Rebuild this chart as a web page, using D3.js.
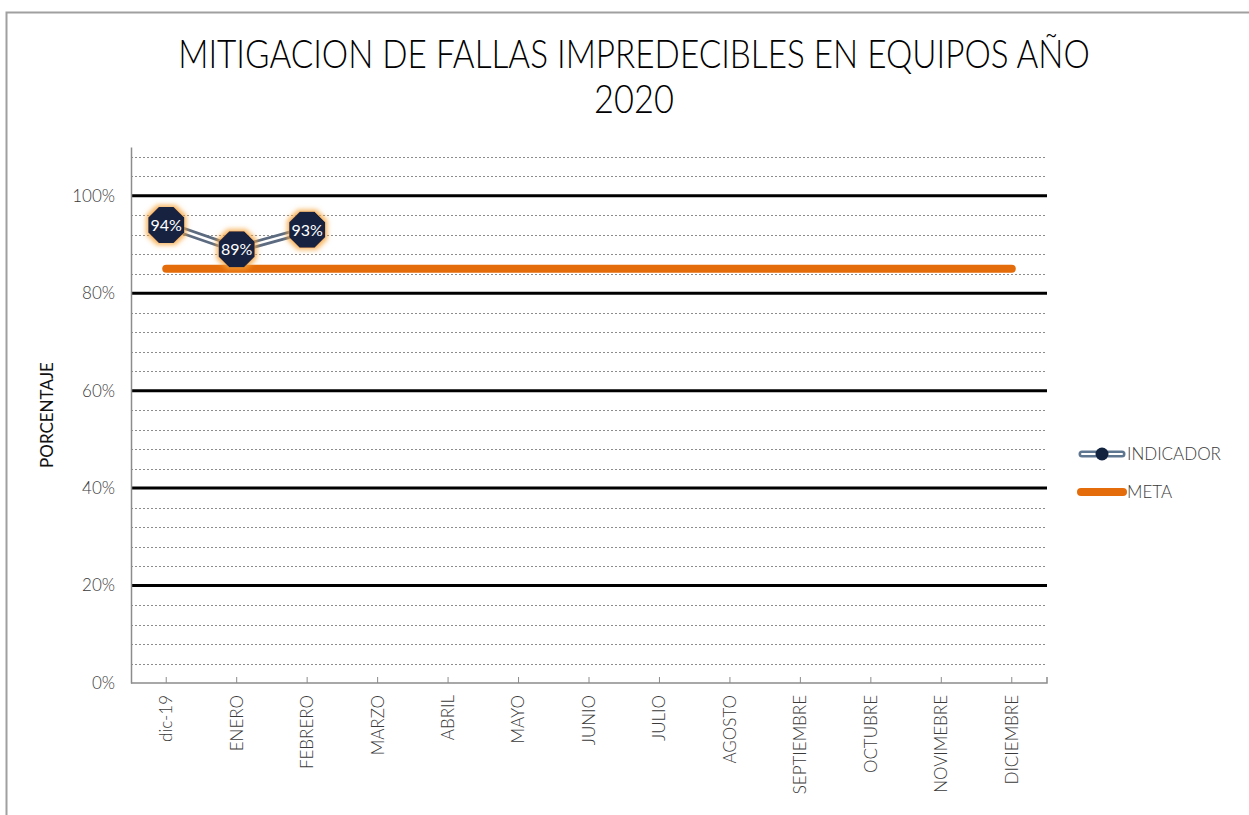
<!DOCTYPE html>
<html>
<head>
<meta charset="utf-8">
<script src="https://cdn.jsdelivr.net/npm/d3@7"></script>
<style>
  html, body { margin: 0; padding: 0; background: #fff; }
  svg { display: block; font-family: "Lato", "Noto Sans", sans-serif; }
</style>
</head>
<body>
<svg id="chart" width="1249" height="815"></svg>
<script>
// Chart data
const categories = ["dic-19", "ENERO", "FEBRERO", "MARZO", "ABRIL", "MAYO", "JUNIO",
  "JULIO", "AGOSTO", "SEPTIEMBRE", "OCTUBRE", "NOVIMEBRE", "DICIEMBRE"];
const indicador = [0.94, 0.89, 0.93];           // measured values (first three months)
const meta = categories.map(() => 0.85);          // target for every month
const yTicks = [0, 0.2, 0.4, 0.6, 0.8, 1.0];
const titleLines = ["MITIGACION DE FALLAS IMPREDECIBLES EN EQUIPOS AÑO", "2020"];
const legendNames = ["INDICADOR", "META"];

const svg = d3.select("#chart");
const margin = { left: 131, right: 1047, top: 147, bottom: 683 };

const x = d3.scaleBand().domain(categories).range([margin.left, margin.right]);
const cx = d => x(d) + x.bandwidth() / 2;
const y = d3.scaleLinear().domain([0, 1.1]).range([margin.bottom, margin.top]);

// Outer frame (top and left edges)
svg.append("path")
  .attr("d", "M6.5,815 V12.5 H1249")
  .attr("fill", "none").attr("stroke", "#a0a0a0").attr("stroke-width", 2);

// Title: a narrow face, squeezed horizontally to a fixed width
const titleG = svg.append("g");
titleG.selectAll("text").data(titleLines).join("text")
  .attr("text-anchor", "middle")
  .attr("font-size", 40).attr("font-weight", 300).attr("fill", "#000")
  .text(d => d)
  .each(function(d, i) {
    const w = this.getComputedTextLength();
    const sx = i === 0 ? 912 / w : 0.86;
    d3.select(this).attr("transform", `translate(634,${68 + i * 45}) scale(${sx},1)`);
  });

// Minor dotted gridlines every 4%
const minor = d3.range(1, 28).map(k => k * 0.04).filter((v, k) => (k + 1) % 5 !== 0);
svg.append("g").selectAll("line").data(minor).join("line")
  .attr("x1", margin.left).attr("x2", margin.right)
  .attr("y1", d => Math.round(y(d)) + 0.5).attr("y2", d => Math.round(y(d)) + 0.5)
  .attr("stroke", "#8c8c8c").attr("stroke-width", 1).attr("stroke-dasharray", "2,2");

// Major gridlines every 20%
svg.append("g").selectAll("line").data(yTicks.filter(v => v > 0)).join("line")
  .attr("x1", margin.left).attr("x2", margin.right)
  .attr("y1", d => y(d)).attr("y2", d => y(d))
  .attr("stroke", "#000").attr("stroke-width", 3);

// Y axis
const yAxis = svg.append("g")
  .attr("transform", `translate(${margin.left},0)`)
  .call(d3.axisLeft(y).tickValues(yTicks).tickFormat(d3.format(".0%")).tickSize(0).tickPadding(16));
yAxis.select(".domain").attr("stroke", "#8c8c8c").attr("stroke-width", 1.5);
yAxis.selectAll("text").attr("font-size", 17).attr("font-weight", 300).attr("fill", "#3a3a3a")
  .attr("font-family", "Lato, sans-serif");

// X axis
const xAxis = svg.append("g")
  .attr("transform", `translate(0,${margin.bottom})`)
  .call(d3.axisBottom(x).tickSizeInner(6).tickSizeOuter(6).tickPadding(12));
xAxis.select(".domain").attr("stroke", "#8c8c8c").attr("stroke-width", 1.5)
  .attr("d", `M${margin.left},0H${margin.right}V-6`);
xAxis.selectAll(".tick line").attr("stroke", "#8c8c8c").attr("y2", -6);
xAxis.selectAll("text")
  .attr("font-size", 17).attr("font-weight", 300).attr("fill", "#3a3a3a")
  .attr("font-family", "Lato, sans-serif")
  .attr("text-anchor", "end")
  .attr("dy", "0.35em")
  .attr("transform", "translate(0,12) rotate(-90)")
  .attr("x", 0).attr("y", 0);

// Y axis title
svg.append("text")
  .attr("transform", "translate(53,415) rotate(-90)")
  .attr("text-anchor", "middle")
  .attr("font-size", 17).attr("font-weight", 400).attr("fill", "#111")
  .text("PORCENTAJE");

// Target line
const line = d3.line().x((d, i) => cx(categories[i])).y(d => y(d));
svg.append("path").datum(meta)
  .attr("d", line)
  .attr("fill", "none").attr("stroke", "#e46c0a").attr("stroke-width", 8)
  .attr("stroke-linecap", "round");

// Indicator line: compound (double) stroke
const ind = svg.append("g");
ind.append("path").datum(indicador).attr("d", line)
  .attr("fill", "none").attr("stroke", "#5c6b80").attr("stroke-width", 8);
ind.append("path").datum(indicador).attr("d", line)
  .attr("fill", "none").attr("stroke", "#fff").attr("stroke-width", 2.5);

// Glow filter for markers
const defs = svg.append("defs");
const glow = defs.append("filter").attr("id", "glow").attr("x", "-50%").attr("y", "-50%").attr("width", "200%").attr("height", "200%");
glow.append("feMorphology").attr("in", "SourceAlpha").attr("operator", "dilate").attr("radius", 2).attr("result", "d");
glow.append("feGaussianBlur").attr("in", "d").attr("stdDeviation", 2.5).attr("result", "b");
glow.append("feFlood").attr("flood-color", "#f5a43c").attr("flood-opacity", 0.85);
glow.append("feComposite").attr("in2", "b").attr("operator", "in").attr("result", "g");
const merge = glow.append("feMerge");
merge.append("feMergeNode").attr("in", "g");
merge.append("feMergeNode").attr("in", "SourceGraphic");

// Octagonal markers
const octagon = r => d3.range(8).map(k => {
  const a = Math.PI / 8 + k * Math.PI / 4;
  return [r * Math.cos(a), r * Math.sin(a)];
});
const markers = svg.append("g").selectAll("g").data(indicador).join("g")
  .attr("transform", (d, i) => `translate(${cx(categories[i])},${y(d)})`);
markers.append("polygon")
  .attr("points", octagon(19.5).map(p => p.join(",")).join(" "))
  .attr("fill", "#12233f").attr("filter", "url(#glow)");
markers.append("text")
  .attr("text-anchor", "middle").attr("dy", "0.36em")
  .attr("font-size", 16).attr("font-weight", 400).attr("fill", "#fff")
  .text(d => d3.format(".0%")(d));

// Legend
const lg = svg.append("g");
const ly = [454, 492];
lg.append("line").attr("x1", 1082).attr("x2", 1122).attr("y1", ly[0]).attr("y2", ly[0])
  .attr("stroke", "#5f7691").attr("stroke-width", 7).attr("stroke-linecap", "round");
lg.append("line").attr("x1", 1082).attr("x2", 1122).attr("y1", ly[0]).attr("y2", ly[0])
  .attr("stroke", "#fff").attr("stroke-width", 2).attr("stroke-linecap", "round");
lg.append("circle").attr("cx", 1102).attr("cy", ly[0]).attr("r", 6.5).attr("fill", "#12233f");
lg.append("line").attr("x1", 1081).attr("x2", 1123).attr("y1", ly[1]).attr("y2", ly[1])
  .attr("stroke", "#e46c0a").attr("stroke-width", 8).attr("stroke-linecap", "round");
lg.selectAll("text").data(legendNames).join("text")
  .attr("x", 1127).attr("y", (d, i) => ly[i]).attr("dy", "0.36em")
  .attr("font-size", 17).attr("font-weight", 300).attr("fill", "#3a3a3a")
  .text(d => d);
</script>
</body>
</html>
